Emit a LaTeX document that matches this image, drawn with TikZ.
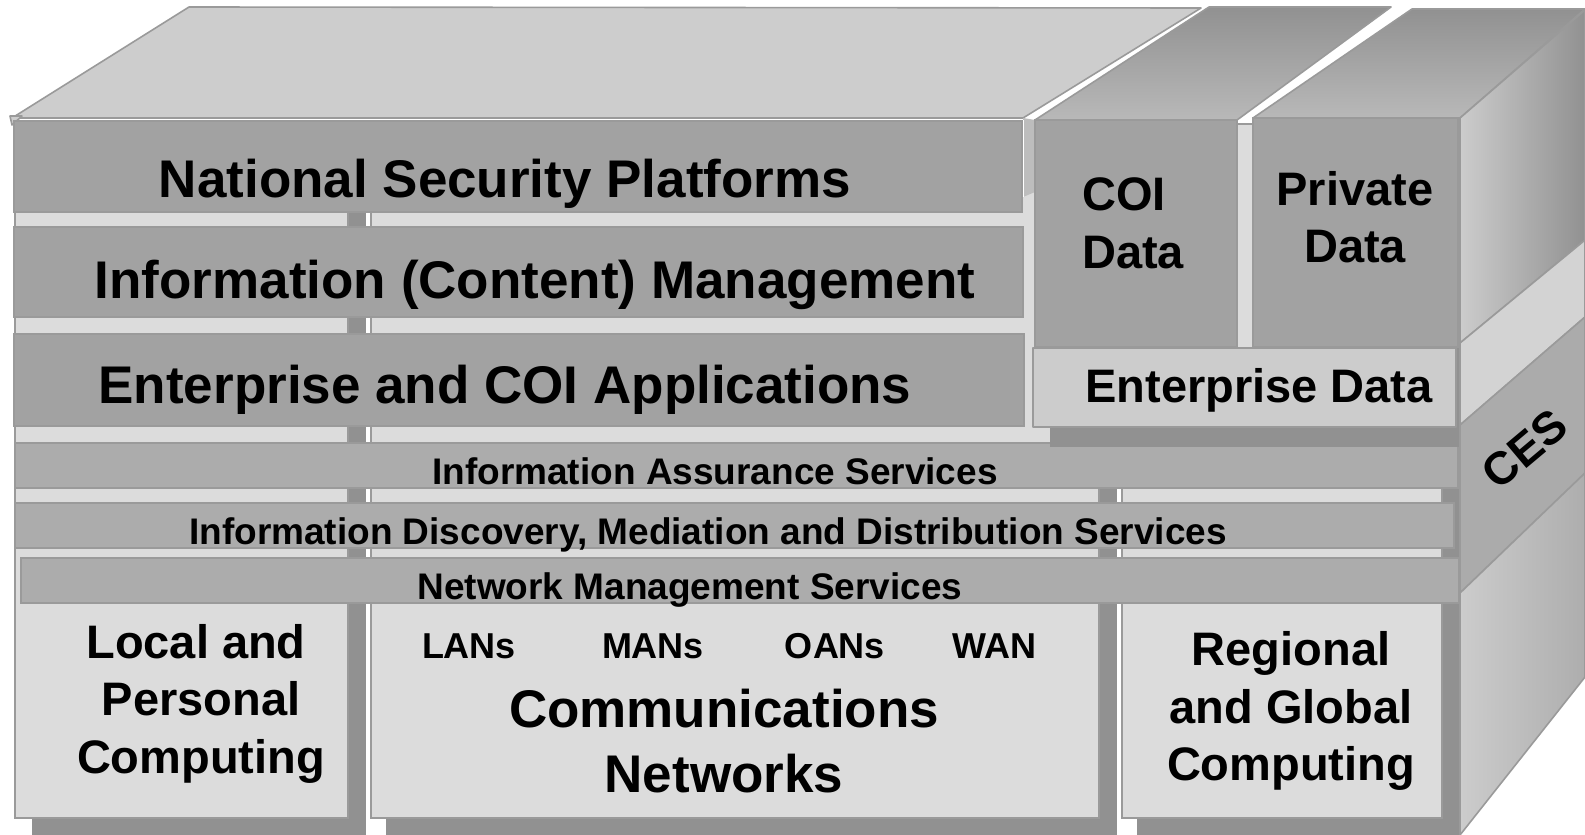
\documentclass[tikz,border=0pt]{standalone}
\usepackage{fontspec}
\setmainfont{Liberation Sans}
\definecolor{colbg}{HTML}{DCDCDC}
\definecolor{shad}{HTML}{919191}
\definecolor{edge}{HTML}{9A9A9A}
\definecolor{barA}{HTML}{A2A2A2}
\definecolor{barB}{HTML}{ACACAC}
\definecolor{topf}{HTML}{CDCDCD}
\definecolor{entd}{HTML}{CCCCCC}
\definecolor{sideL}{HTML}{D3D3D3}
\definecolor{cesf}{HTML}{ABABAB}
\newcommand\setfs[1]{\fontsize{#1}{#1}\selectfont\bfseries}
\tikzset{
  colbox/.style={fill=colbg, draw=edge, line width=1.2pt},
  shadowbox/.style={fill=shad},
  barbig/.style={fill=barA, draw=edge, line width=1.6pt},
  barthin/.style={fill=barB, draw=edge, line width=1.6pt},
  face/.style={draw=edge, line width=1.6pt, line join=round},
  lbl/.style={anchor=base, inner sep=0pt, text=black},
  big/.style={lbl, font=\setfs{53}},
  mid/.style={lbl, font=\setfs{47}},
  small/.style={lbl, font=\setfs{37}},
  tiny/.style={lbl, font=\setfs{36}},
}
\begin{document}
\begin{tikzpicture}[x=1pt, y=-1pt]
\useasboundingbox (0,0) rectangle (1585,835);
\fill[white] (0,0) rectangle (1585,835);

% ---- column backgrounds with shadows
\fill[shadowbox] (348,124) rectangle (366,835);
\fill[shadowbox] (32,818) rectangle (366,835);
\draw[colbox] (15,124) rectangle (348,818);

\fill[shadowbox] (1099,124) rectangle (1117,835);
\fill[shadowbox] (386,818) rectangle (1117,835);
\draw[colbox] (371,124) rectangle (1099,818);

\fill[shadowbox] (1442,124) rectangle (1459,835);
\fill[shadowbox] (1137,818) rectangle (1459,835);
\draw[colbox] (1122,124) rectangle (1442,818);

% ---- top face of the main block
\draw[face, fill=topf] (12,118) -- (189,7) -- (1201,8) -- (1023,118) -- cycle;
\draw[face, fill=topf] (10,116) -- (22,116) -- (12,125) -- cycle;

% ---- layer bars
\draw[barbig] (14,121) rectangle (1022,212);
\draw[barbig] (14,227) rectangle (1023,317);
\draw[barbig] (14,334) rectangle (1024,426);
\draw[barthin] (15,443) rectangle (1458,488);
\draw[barthin] (15,503) rectangle (1454,548);
\draw[barthin] (21,558) rectangle (1459,603);

% ---- data blocks
\fill[fill=barB!80!white] (1023,118) -- (1035,120) -- (1035,192) -- (1023,197) -- cycle;
\draw[white, line width=1pt] (1023,120) -- (1023,197);
\shadedraw[face, top color=shad, bottom color=barB!85!white] (1035,120) -- (1209,7) -- (1391,7) -- (1237,120) -- cycle;
\shadedraw[face, top color=shad, bottom color=barB!85!white] (1253,118) -- (1412,9) -- (1585,9) -- (1460,118) -- cycle;
\draw[barbig] (1035,120) rectangle (1237,347);
\draw[barbig] (1253,118) rectangle (1458,347);
\fill[shadowbox] (1050,428) rectangle (1459,447);
\draw[face, fill=entd] (1033,348) rectangle (1456,427);

% ---- right side faces
\shadedraw[face, left color=entd, right color=shad] (1460,118) -- (1585,10) -- (1585,240) -- (1460,343) -- cycle;
\draw[face, fill=sideL] (1460,343) -- (1585,240) -- (1585,317) -- (1460,425) -- cycle;
\draw[face, fill=cesf] (1460,425) -- (1585,317) -- (1585,473) -- (1460,593) -- cycle;
\shadedraw[face, left color=entd, right color=entd!85!black] (1460,593) -- (1585,473) -- (1585,677) -- (1460,835) -- cycle;

% ---- labels
\node[big] (nsp) at (505,197) {National Security Platforms};
\node[big] (icm) at (535,298) {Information (Content) Management};
\node[big] (ecoi) at (505,403) {Enterprise and COI Applications};
\node[small] (ias) at (715,484) {Information Assurance Services};
\node[small] (idm) at (708,544) {Information Discovery, Mediation and Distribution Services};
\node[small] (nms) at (690,599) {Network Management Services};

\node[mid] (lp1) at (196,658) {Local and};
\node[mid] (lp2) at (201,715) {Personal};
\node[mid] (lp3) at (201,773) {Computing};

\node[tiny] (lans) at (469,658) {LANs};
\node[tiny] (mans) at (653,658) {MANs};
\node[tiny] (oans) at (835,658) {OANs};
\node[tiny] (wan) at (994,658) {WAN};
\node[big] (cn1) at (724,727) {Communications};
\node[big] (cn2) at (724,792) {Networks};

\node[mid] (rg1) at (1291,665) {Regional};
\node[mid] (rg2) at (1291,723) {and Global};
\node[mid] (rg3) at (1291,780) {Computing};

\node[mid, anchor=base west] (coi1) at (1082,210) {COI};
\node[mid, anchor=base west] (coi2) at (1082,268) {Data};
\node[mid] (pd1) at (1355,205) {Private};
\node[mid] (pd2) at (1355,262) {Data};
\node[mid] (ed) at (1259,402) {Enterprise Data};

\node[inner sep=0pt, font=\setfs{46}, rotate=40] (ces) at (1525,449) {CES};
\end{tikzpicture}
\end{document}
